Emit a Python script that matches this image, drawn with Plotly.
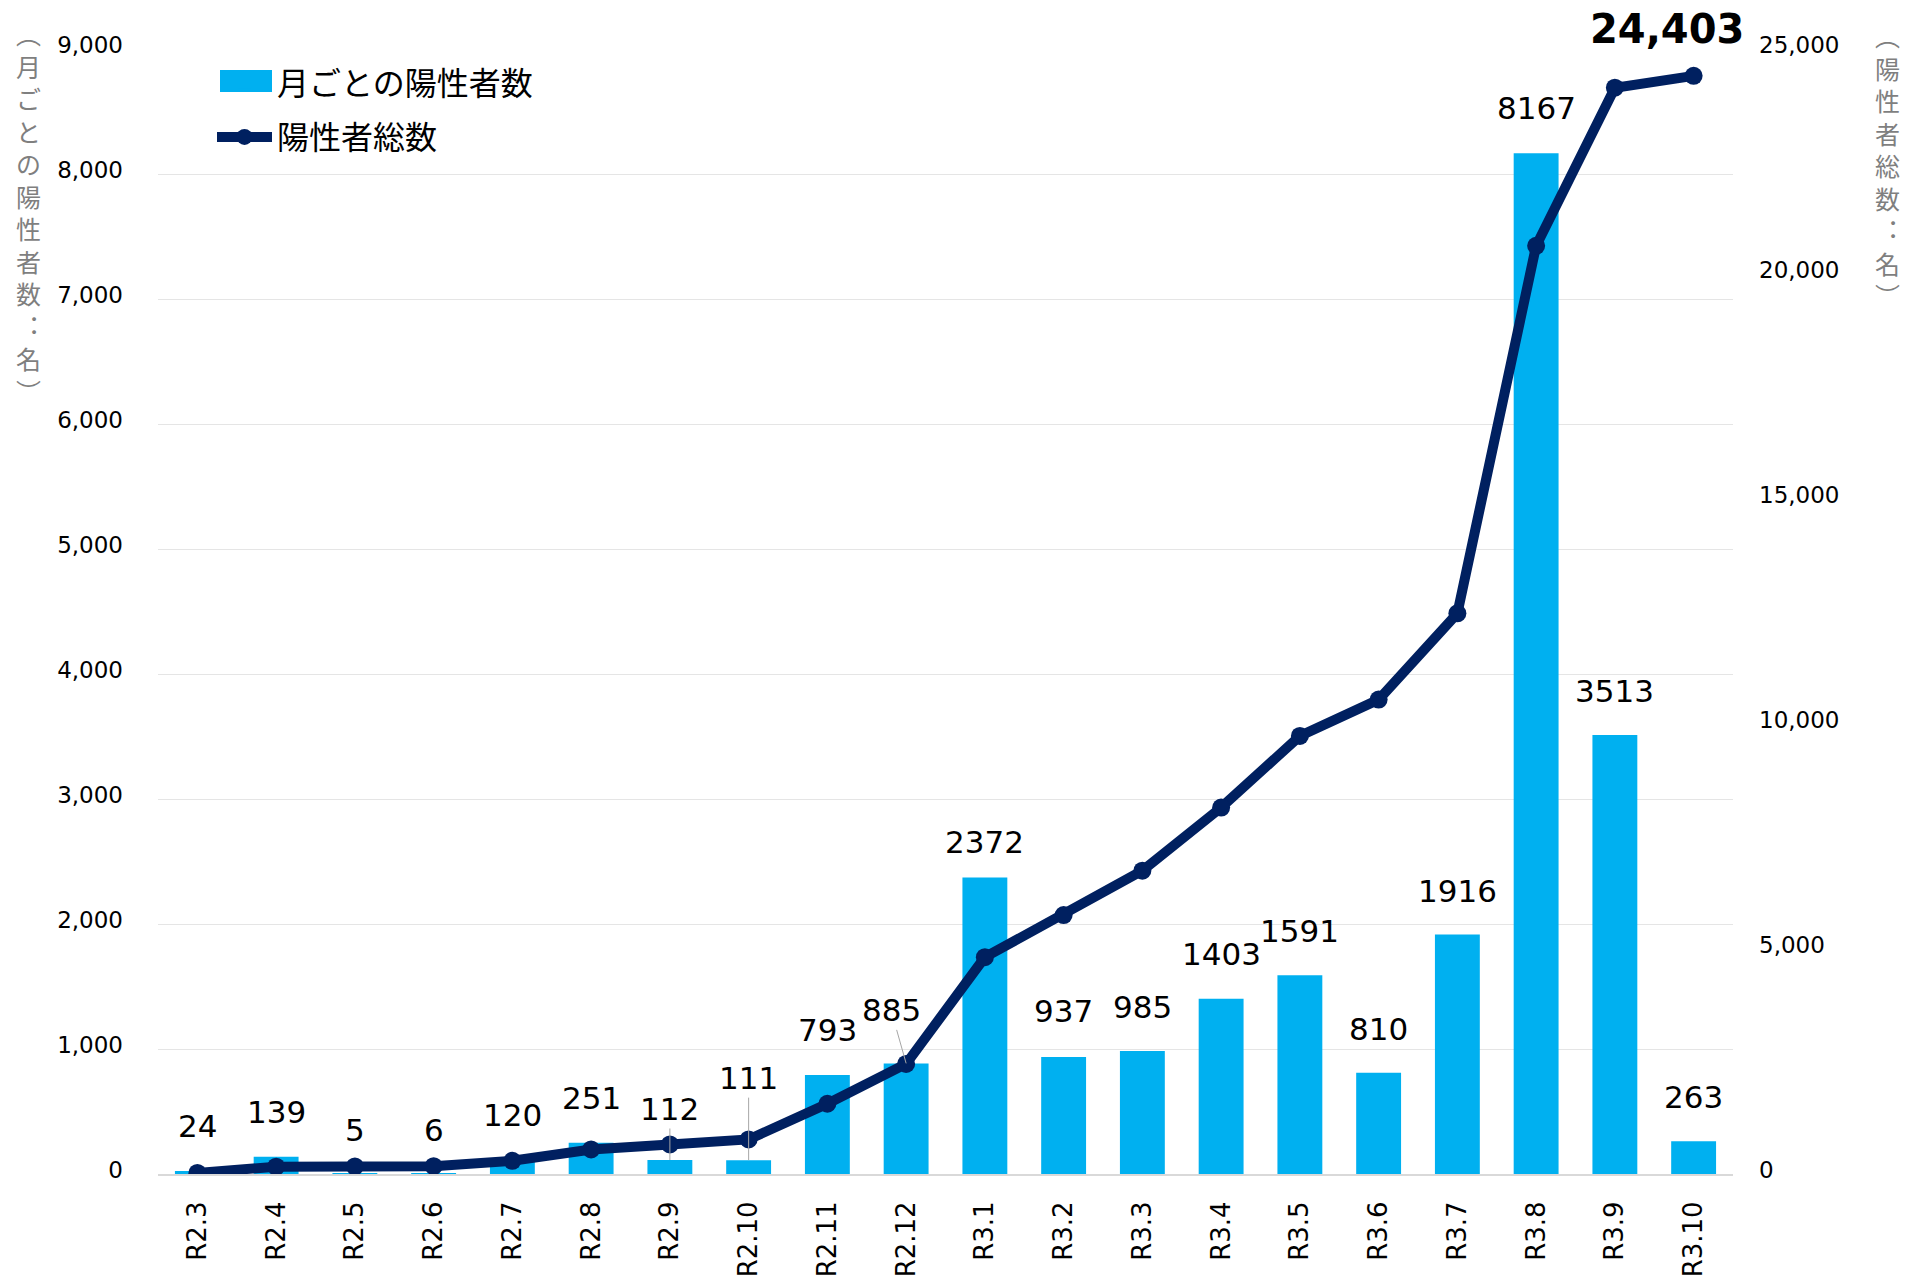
import plotly.graph_objects as go

# ---------------- data ----------------
categories = ["R2.3", "R2.4", "R2.5", "R2.6", "R2.7", "R2.8", "R2.9", "R2.10", "R2.11", "R2.12",
              "R3.1", "R3.2", "R3.3", "R3.4", "R3.5", "R3.6", "R3.7", "R3.8", "R3.9", "R3.10"]
monthly = [24, 139, 5, 6, 120, 251, 112, 111, 793, 885,
           2372, 937, 985, 1403, 1591, 810, 1916, 8167, 3513, 263]
cumulative = [24, 163, 168, 174, 294, 545, 657, 768, 1561, 2446,
              4818, 5755, 6740, 8143, 9734, 10544, 12460, 20627, 24140, 24403]
total_label = "24,403"
bar_name = "月ごとの陽性者数"
line_name = "陽性者総数"
left_title = ["︵", "月", "ご", "と", "の", "陽", "性", "者", "数", "︓", "名", "︶"]
right_title = ["︵", "陽", "性", "者", "総", "数", "︓", "名", "︶"]
left_ticks = [0, 1000, 2000, 3000, 4000, 5000, 6000, 7000, 8000, 9000]
right_ticks = [0, 5000, 10000, 15000, 20000, 25000]

# label placement (pixel offsets, style only)
label_dx = [0, 0, 0, 0, 0, 0, 0, 0, 0, -15, 0, 0, 0, 0, 0, 0, 0, 0, 0, 0]
label_dy = [45, 45, 43, 43, 44, 45, 51, 82, 45, 53, 36, 46, 44, 45, 44, 44, 44, 45, 44, 44]
leader = [False, False, False, False, False, False, True, True, False, True,
          False, False, False, False, False, False, False, False, False, False]

# ---------------- style ----------------
W, H = 1907, 1281
ML, MR, MT, MB = 158, 174, 49, 107
PW, PH = W - ML - MR, H - MT - MB
BAR_COLOR = "#00B0F0"
LINE_COLOR = "#002060"
NUM_FONT = "DejaVu Sans, Verdana, sans-serif"
JP_FONT = "Noto Sans CJK JP, sans-serif"
LEG_X, LEG_Y, LEG_ITEMW = 212, 55, 55


def px_x(px):
    return (px - ML) / PW


def px_y(py):
    return (H - MB - py) / PH


fig = go.Figure()
fig.add_trace(go.Bar(
    x=categories, y=monthly, name=bar_name, yaxis="y",
    marker=dict(color=BAR_COLOR, line=dict(width=0)),
    legendgroup="a",
))
fig.add_trace(go.Scatter(
    x=categories, y=cumulative, name=line_name, yaxis="y2",
    mode="lines+markers",
    line=dict(color=LINE_COLOR, width=10),
    marker=dict(color=LINE_COLOR, size=18),
    legendgroup="b",
))

annotations = []
for c, v, dx, dy, ld in zip(categories, monthly, label_dx, label_dy, leader):
    annotations.append(dict(
        x=c, y=v, xref="x", yref="y", text=str(v),
        showarrow=True, ax=dx, ay=-dy, axref="pixel", ayref="pixel",
        arrowhead=0, arrowwidth=1,
        arrowcolor="#A6A6A6" if ld else "rgba(0,0,0,0)",
        font=dict(family=NUM_FONT, size=31, color="#000000"),
    ))

annotations.append(dict(
    x=categories[-1], y=cumulative[-1], xref="x", yref="y2",
    text="<b>" + total_label + "</b>",
    showarrow=True, ax=-27, ay=-47, arrowcolor="rgba(0,0,0,0)",
    font=dict(family=NUM_FONT, size=40, color="#000000"),
))

annotations.append(dict(
    x=px_x(28), y=px_y(212), xref="paper", yref="paper",
    text="<br>".join(left_title), showarrow=False,
    xanchor="center", yanchor="middle",
    font=dict(family=JP_FONT, size=25, color="#7F7F7F"),
))
annotations.append(dict(
    x=px_x(1887), y=px_y(165), xref="paper", yref="paper",
    text="<br>".join(right_title), showarrow=False,
    xanchor="center", yanchor="middle",
    font=dict(family=JP_FONT, size=25, color="#7F7F7F"),
))

# enlarged swatch behind the legend's bar symbol (legend decoration)
shapes = [dict(
    type="rect", xref="paper", yref="paper",
    x0=px_x(220), x1=px_x(272), y0=px_y(92), y1=px_y(70),
    fillcolor=BAR_COLOR, line=dict(width=0), layer="above",
)]

fig.update_layout(
    width=W, height=H,
    margin=dict(l=ML, r=MR, t=MT, b=MB, pad=0, autoexpand=False),
    paper_bgcolor="white", plot_bgcolor="white",
    bargap=0.43,
    showlegend=True,
    legend=dict(
        x=px_x(LEG_X), y=px_y(LEG_Y), xanchor="left", yanchor="top",
        font=dict(family=JP_FONT, size=32, color="#000000"),
        itemwidth=LEG_ITEMW, tracegroupgap=10,
        bgcolor="rgba(0,0,0,0)",
    ),
    xaxis=dict(
        type="category", tickangle=-90, range=[-0.5, len(categories) - 0.5],
        tickfont=dict(family=NUM_FONT, size=26, color="#000000"),
        showline=True, linecolor="#D9D9D9", linewidth=2,
        showgrid=False, ticks="", ticklabelstandoff=15, automargin=False,
    ),
    yaxis=dict(
        range=[0, 9000], tickvals=left_ticks, tickformat=",d",
        tickfont=dict(family=NUM_FONT, size=23, color="#000000"),
        showgrid=True, gridcolor="#E5E5E5", gridwidth=1,
        zeroline=False, showline=False, ticks="", ticklabelstandoff=34,
        ticklabelshift=-4, automargin=False,
    ),
    yaxis2=dict(
        range=[0, 25000], tickvals=right_ticks, tickformat=",d",
        overlaying="y", side="right",
        tickfont=dict(family=NUM_FONT, size=23, color="#000000"),
        showgrid=False, zeroline=False, showline=False, ticks="",
        ticklabelstandoff=25, ticklabelshift=-4, automargin=False,
    ),
    annotations=annotations,
    shapes=shapes,
)

fig.write_html("out.html", config={"displayModeBar": False},
               post_script="document.body.style.margin='0';")
